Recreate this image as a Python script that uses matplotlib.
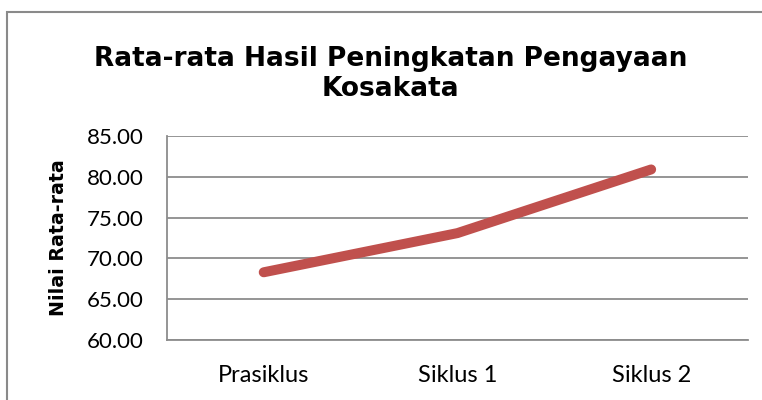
import matplotlib
matplotlib.use('Agg')
import matplotlib.pyplot as plt
from matplotlib.patches import Rectangle

categories = ['Prasiklus', 'Siklus 1', 'Siklus 2']
values = [68.3, 73.1, 80.9]
yticks = [60, 65, 70, 75, 80, 85]

fig = plt.figure(figsize=(7.62, 4.0), dpi=100)
ax = fig.add_axes([0.219, 0.15, 0.7626, 0.51])

# outer chart frame
fig.patches.append(Rectangle((7 / 762, -0.5), 2.0, 1.5 - 12 / 400,
                             transform=fig.transFigure, fill=False,
                             edgecolor='#8a8a8a', linewidth=1.5))

ax.plot(range(len(categories)), values, color='#C0504D', linewidth=7.2,
        solid_capstyle='round', solid_joinstyle='round', zorder=3)

ax.set_xlim(-0.5, len(categories) - 0.5)
ax.set_ylim(60, 85)
ax.set_yticks(yticks)
ax.set_yticklabels([f'{v:.2f}' for v in yticks], fontfamily='Lato', fontsize=16)
ax.set_xticks(range(len(categories)))
ax.set_xticklabels(categories, fontfamily='Lato', fontsize=17)
ax.tick_params(axis='y', length=0, pad=17)
ax.tick_params(axis='x', length=0, pad=18)
ax.grid(axis='y', color='#8c8c8c', linewidth=1.3)
ax.set_axisbelow(True)
for s in ['top', 'right']:
    ax.spines[s].set_visible(False)
ax.spines['left'].set_color('#8c8c8c')
ax.spines['bottom'].set_color('#8c8c8c')
ax.spines['left'].set_linewidth(1.3)
ax.spines['bottom'].set_linewidth(1.3)

ax.set_ylabel('Nilai Rata-rata', fontsize=13.7, fontweight='bold')
ax.yaxis.set_label_coords(-0.171, 0.5)

fig.text(0.513, 0.815, 'Rata-rata Hasil Peningkatan Pengayaan\nKosakata',
         ha='center', va='center', fontsize=19, fontweight='bold',
         linespacing=1.25)

fig.savefig('out.png', dpi=100)
